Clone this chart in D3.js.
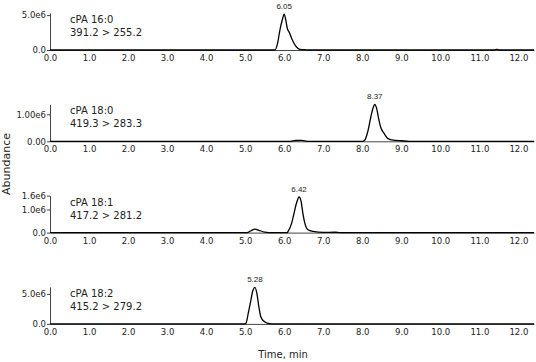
<!DOCTYPE html>
<html lang="en">
  <head>
    <meta charset="UTF-8" />
    <title>cPA MRM chromatograms</title>
    <script src="https://d3js.org/d3.v7.min.js"></script>
    <style>
      body { margin: 0; background: #fff; }
      .axis text { font-family: "DejaVu Sans", sans-serif; font-size: 8.5px; fill: #222; }
      .axis path, .axis line { stroke: #444; }
    </style>
  </head>
  <body>
    <div id="chart"></div>

    <script>
      // compound names and transitions
      const compounds = ["cPA 16:0", "cPA 18:0", "cPA 18:1", "cPA 18:2"];
      const transitions = ["391.2 > 255.2", "419.3 > 283.3", "417.2 > 281.2", "415.2 > 279.2"];
      const peakLabels = ["6.05", "8.37", "6.42", "5.28"];

      // y axis top value and tick labels per panel
      const yMax = [5.3e6, 1.37e6, 1.6e6, 6.17e6];
      const yTickValues = [
        [0, 5.0e6],
        [0, 1.0e6],
        [0, 1.0e6, 1.6e6],
        [0, 5.0e6],
      ];
      const yTickLabels = [
        ["0.0", "5.0e6"],
        ["0.00", "1.00e6"],
        ["0.0", "1.0e6", "1.6e6"],
        ["0.0", "5.0e6"],
      ];

      const xTicks = [0, 1, 2, 3, 4, 5, 6, 7, 8, 9, 10, 11, 12];

      // traces: [time (min), abundance]
      const trace160 = [
        [0, 0], [5.76, 0], [5.83, 0.96e6], [5.89, 2.86e6], [5.95, 4.3e6],
        [6.0, 5.15e6], [6.04, 4.3e6], [6.08, 3.1e6], [6.14, 2.4e6],
        [6.19, 1.67e6], [6.25, 0.96e6], [6.32, 0.39e6], [6.4, 0.1e6],
        [6.55, 0.03e6], [6.75, 0], [11.38, 0], [11.45, 0.09e6], [11.52, 0],
        [12.4, 0],
      ];
      const trace180 = [
        [0, 0], [6.15, 0], [6.3, 0.03e6], [6.45, 0.035e6], [6.6, 0],
        [8.0, 0], [8.06, 0.04e6], [8.15, 0.41e6], [8.22, 0.9e6],
        [8.28, 1.25e6], [8.32, 1.37e6], [8.37, 1.21e6], [8.42, 0.84e6],
        [8.47, 0.53e6], [8.56, 0.29e6], [8.66, 0.1e6], [8.79, 0.04e6],
        [9.0, 0.02e6], [9.2, 0], [12.4, 0],
      ];
      const trace181 = [
        [0, 0], [5.05, 0], [5.15, 0.08e6], [5.25, 0.15e6], [5.35, 0.1e6],
        [5.5, 0.02e6], [5.6, 0], [6.08, 0], [6.1, 0.05e6], [6.19, 0.4e6],
        [6.25, 0.82e6], [6.32, 1.3e6], [6.38, 1.54e6], [6.43, 1.37e6],
        [6.48, 0.82e6], [6.53, 0.4e6], [6.61, 0.12e6], [6.74, 0.05e6],
        [7.0, 0.01e6], [7.3, 0.015e6], [7.45, 0], [12.4, 0],
      ];
      const trace182 = [
        [0, 0], [4.98, 0], [5.02, 0.1e6], [5.08, 1.8e6], [5.14, 3.7e6],
        [5.19, 5.4e6], [5.25, 6.1e6], [5.3, 5.1e6], [5.35, 2.9e6],
        [5.4, 1.2e6], [5.49, 0.4e6], [5.59, 0.1e6], [5.75, 0], [12.4, 0],
      ];
      const traces = [trace160, trace180, trace181, trace182];

      const width = 536, height = 362;
      const left = 50, right = 534;
      const firstBase = 50, panelStep = 91.3, axisH = 37;

      const svg = d3
        .select("#chart")
        .append("svg")
        .attr("width", width)
        .attr("height", height);

      const x = d3.scaleLinear().domain([0, 12.4]).range([left, right]);

      traces.forEach((trace, i) => {
        const base = firstBase + i * panelStep;
        const y = d3.scaleLinear().domain([0, yMax[i]]).range([base, base - axisH]);

        // x axis
        svg
          .append("g")
          .attr("class", "axis")
          .attr("transform", `translate(0,${base})`)
          .call(
            d3.axisBottom(x).tickValues(xTicks).tickFormat(d3.format(".1f"))
              .tickSize(0).tickPadding(5)
          );

        // y axis
        svg
          .append("g")
          .attr("class", "axis")
          .attr("transform", `translate(${left},0)`)
          .call(
            d3.axisLeft(y).tickValues(yTickValues[i])
              .tickFormat((d, k) => yTickLabels[i][k])
              .tickSizeOuter(0).tickSizeInner(3).tickPadding(1)
          );

        // trace
        svg
          .append("path")
          .datum(trace)
          .attr("fill", "none")
          .attr("stroke", "#000")
          .attr("stroke-width", 1.3)
          .attr("stroke-linejoin", "round")
          .attr("d", d3.line().x((d) => x(d[0])).y((d) => y(d[1])).curve(d3.curveMonotoneX));

        // peak label at apex
        const apex = d3.greatest(trace, (d) => d[1]);
        svg
          .append("text")
          .attr("x", x(apex[0]))
          .attr("y", y(apex[1]) - 5)
          .attr("text-anchor", "middle")
          .style("font-family", "'Liberation Sans', sans-serif")
          .style("font-size", "8px")
          .attr("fill", "#222")
          .text(peakLabels[i]);

        // compound label
        const lbl = svg
          .append("text")
          .attr("x", left + 20)
          .attr("y", base - axisH + 10)
          .style("font-family", "'DejaVu Sans', sans-serif")
          .style("font-size", "10px")
          .attr("fill", "#222");
        lbl.append("tspan").attr("x", left + 20).text(compounds[i]);
        lbl.append("tspan").attr("x", left + 20).attr("dy", 13).text(transitions[i]);
      });

      // axis titles
      svg
        .append("text")
        .attr("transform", "translate(10,164) rotate(-90)")
        .attr("text-anchor", "middle")
        .style("font-family", "'DejaVu Sans', sans-serif")
        .style("font-size", "11px")
        .attr("fill", "#222")
        .text("Abundance");

      svg
        .append("text")
        .attr("x", 283)
        .attr("y", 358)
        .attr("text-anchor", "middle")
        .style("font-family", "'DejaVu Sans', sans-serif")
        .style("font-size", "10px")
        .attr("fill", "#222")
        .text("Time, min");
    </script>
  </body>
</html>
